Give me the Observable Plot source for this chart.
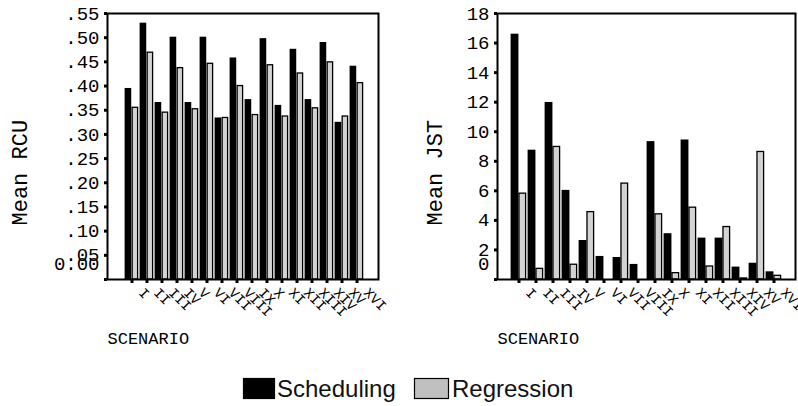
<!DOCTYPE html>
<html>
<head>
<meta charset="utf-8">
<script src="https://cdn.jsdelivr.net/npm/d3@7"></script>
<script src="https://cdn.jsdelivr.net/npm/@observablehq/plot@0.6"></script>
<style>
  html, body { margin: 0; padding: 0; background: #fff; }
  #wrap { position: relative; width: 798px; height: 406px; overflow: hidden; }
  #left { position: absolute; left: 0; top: 0; }
  #right { position: absolute; left: 399px; top: 0; }
  #legend { position: absolute; left: 0; top: 0; }
</style>
</head>
<body>
<div id="wrap">
  <div id="left"></div>
  <div id="right"></div>
  <svg id="legend" width="798" height="406"></svg>
</div>
<script>
const scenarios = ["I","II","III","IV","V","VI","VII","VIII","IX","X","XI","XII","XIII","XIV","XV","XVI"];
const seriesNames = ["Scheduling", "Regression"];

const rcuScheduling = [0.395,0.530,0.366,0.501,0.366,0.501,0.334,0.458,0.372,0.498,0.360,0.476,0.372,0.490,0.325,0.441];
const rcuRegression = [0.355,0.469,0.345,0.437,0.352,0.446,0.334,0.400,0.340,0.443,0.337,0.426,0.354,0.449,0.337,0.406];

const jstScheduling = [16.6,8.75,11.98,6.03,2.64,1.56,1.49,1.02,9.33,3.1,9.44,2.8,2.8,0.84,1.1,0.52];
const jstRegression = [5.81,0.72,8.97,1.0,4.56,0,6.49,0,4.41,0.43,4.86,0.88,3.55,0.07,8.63,0.25];

const rcuTicks = [0,0.05,0.10,0.15,0.20,0.25,0.30,0.35,0.40,0.45,0.50,0.55];
const jstTicks = [0,2,4,6,8,10,12,14,16,18];

const rcuFmt = d => d3.format(".2f")(d).replace(/^0\./, ".");
const jstFmt = d => String(d);

const W = 399, H = 360;
const FONT = "'Liberation Mono', 'Courier New', monospace";

function chart({sched, regr, domain, ticks, fmt, zeroLabel, ylabel, marginLeft, marginRight, xRange, ylabelX}) {
  const schedRows = scenarios.map((s, i) => ({scenario: s, series: seriesNames[0], value: sched[i]}));
  const regrRows = scenarios.map((s, i) => ({scenario: s, series: seriesNames[1], value: regr[i]}));
  const step = (xRange[1] - xRange[0]) / scenarios.length;
  const half = step / 2;
  return Plot.plot({
    width: W,
    height: H,
    marginLeft,
    marginRight,
    marginTop: 13,
    marginBottom: 81,
    style: {fontFamily: FONT, fontSize: "19px", color: "black", background: "white", overflow: "visible"},
    x: {type: "band", domain: scenarios, range: xRange, padding: 0, axis: null},
    y: {domain, axis: null},
    marks: [
      Plot.barY(schedRows, {x: "scenario", y: "value", fill: "black", insetLeft: 0.6, insetRight: half}),
      Plot.barY(regrRows, {x: "scenario", y: "value", fill: "#d3d3d3", stroke: "black", strokeWidth: 1.3, insetLeft: half + 0.4, insetRight: 1.4}),
      Plot.frame({stroke: "black", strokeWidth: 2}),
      Plot.axisY({ticks, tickSize: 3, strokeWidth: 3, tickPadding: 5, tickFormat: d => d === 0 ? "" : fmt(d), label: null, fontSize: 19}),
      Plot.text([zeroLabel], {frameAnchor: "bottom-left", textAnchor: "end", dx: -8, dy: -10, fontSize: 19}),
      Plot.axisX({tickSize: 4, strokeWidth: 3, tickFormat: () => "", label: null}),
      Plot.text(scenarios, {x: d => d, frameAnchor: "bottom", rotate: 45, textAnchor: "start", dx: 6, dy: 14, fontSize: 14}),
      Plot.text(["SCENARIO"], {frameAnchor: "bottom-left", textAnchor: "start", dy: 64, fontSize: 17}),
      Plot.text([ylabel], {frameAnchor: "left", rotate: -90, dx: ylabelX - marginLeft, dy: 79, fontSize: 22})
    ]
  });
}

document.getElementById("left").appendChild(chart({
  sched: rcuScheduling, regr: rcuRegression, domain: [0, 0.55], ticks: rcuTicks, fmt: rcuFmt,
  zeroLabel: "0.00", ylabel: "Mean RCU", marginLeft: 107, marginRight: 21, xRange: [119.2, 367.8], ylabelX: 19
}));

document.getElementById("right").appendChild(chart({
  sched: jstScheduling, regr: jstRegression, domain: [0, 18], ticks: jstTicks, fmt: jstFmt,
  zeroLabel: "0", ylabel: "Mean JST", marginLeft: 98, marginRight: 3, xRange: [109.4, 383.6], ylabelX: 35.5
}));

// legend
const legendItems = [
  {name: seriesNames[0], fill: "black", x: 243, w: 31, tx: 277},
  {name: seriesNames[1], fill: "#c0c0c0", x: 414, w: 34, tx: 452}
];
const lg = d3.select("#legend");
legendItems.forEach(it => {
  lg.append("rect").attr("x", it.x + 0.5).attr("y", 378.5).attr("width", it.w).attr("height", 20)
    .attr("fill", it.fill).attr("stroke", "black").attr("stroke-width", 1.2);
  lg.append("text").attr("x", it.tx).attr("y", 397).text(it.name)
    .attr("font-family", "'Liberation Sans', Arial, sans-serif").attr("font-size", 24).attr("fill", "#111");
});
</script>
</body>
</html>
